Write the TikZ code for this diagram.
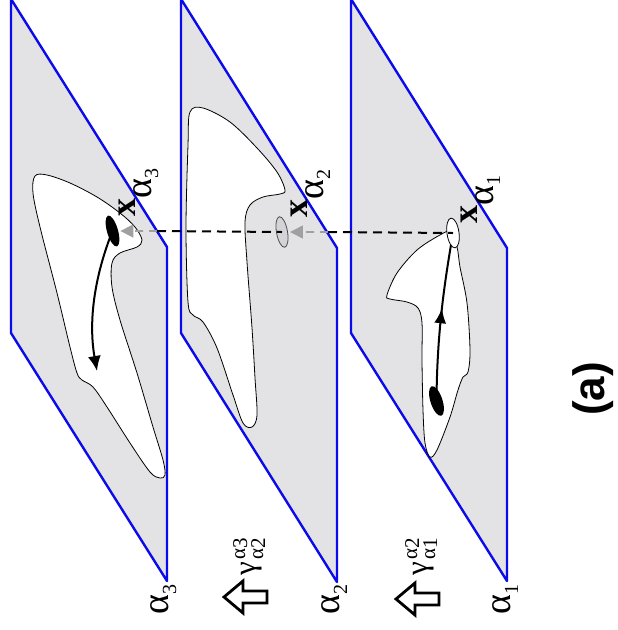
\documentclass[tikz,border=0pt]{standalone}
\usepackage{fontspec}
\newfontfamily\lib{Liberation Serif}
\newfontfamily\libsans{Liberation Sans}
\usetikzlibrary{shapes.geometric,arrows.meta,decorations.markings}
\definecolor{planegray}{RGB}{227,227,230}
\definecolor{planeblue}{RGB}{10,10,235}
\definecolor{arrgray}{RGB}{160,160,160}
\definecolor{dotgray}{RGB}{212,212,216}
\newcommand\xlab[1]{\lib\fontsize{36}{36}\selectfont\textbf{x}\raisebox{-16pt}{\fontsize{38}{38}\selectfont α\raisebox{-7pt}{\fontsize{20}{20}\selectfont #1}}}
\newcommand\alab[1]{\lib\fontsize{38}{38}\selectfont α\raisebox{-8pt}{\fontsize{20}{20}\selectfont #1}}
\newcommand\glab[2]{\lib\fontsize{31}{31}\selectfont γ\hspace{3pt}\rlap{\raisebox{10pt}{\fontsize{21}{21}\selectfont α\raisebox{-2pt}{#1}}}\raisebox{-8pt}{\fontsize{21}{21}\selectfont α\raisebox{-2pt}{#2}}}
\begin{document}
\begin{tikzpicture}[x=1pt,y=-1pt,
  plane/.style={fill=planegray, draw=planeblue, line width=2.4pt, line join=round},
  blob/.style={fill=white, draw=black, line width=0.8pt},
  dot/.style={ellipse, inner sep=0pt},
  curvearrow/.style={line width=2pt, draw=black},
  blackdash/.style={draw=black, line width=2pt, dash pattern=on 9pt off 6pt},
  graydash/.style={draw=arrgray, line width=1.6pt, dash pattern=on 8pt off 6pt, -{Triangle[length=13pt,width=13pt]}, shorten >=2pt},
  hollow/.style={draw=black, fill=white, line width=2.8pt, line join=miter},
  lab/.style={rotate=90, anchor=base west, inner sep=0pt}]
\useasboundingbox (0,0) rectangle (618,630);
\fill[white] (0,0) rectangle (618,630);
% planes
\draw[plane] (11,-1) -- (167,247) -- (167,581) -- (11,333) -- cycle;
\draw[plane] (181,-1) -- (337,248) -- (337,582) -- (181,333) -- cycle;
\draw[plane] (351,-1) -- (507,248) -- (507,581) -- (351,333) -- cycle;
% blobs
\draw[blob] plot[smooth cycle, tension=0.55] coordinates {(35,176) (47,175) (70,183) (97,197) (120,213) (135,227) (142,240) (137,247) (120,253) (112,263) (112,287) (120,320) (137,373) (153,427) (163,460) (165,475) (160,478) (150,472) (130,443) (107,407) (93,387) (82,380) (77,373) (70,347) (57,293) (40,227) (33,193)};
\draw[blob] plot[smooth cycle, tension=0.55] coordinates {(190,112) (203,108) (230,122) (257,148) (277,172) (285,190) (280,194) (263,197) (250,205) (245,222) (247,262) (252,328) (255,378) (257,415) (252,427) (243,423) (233,395) (217,348) (203,322) (193,315) (188,302) (186,228) (188,145)};
\draw[blob] plot[smooth cycle, tension=0.55] coordinates {(450,232) (440,235) (417,250) (397,273) (387,295) (390,299) (407,302) (418,308) (422,323) (422,360) (423,410) (425,443) (430,457) (437,450) (450,417) (458,390) (463,377) (468,372) (470,350) (467,303) (460,267) (457,247)};
% point nodes
\node[dot, fill=black, minimum width=11pt, minimum height=32pt, rotate=16] (e3) at (112.5,231) {};
\node[dot, fill=dotgray, draw=black!70, line width=0.8pt, minimum width=11pt, minimum height=31pt, rotate=10] (e2) at (282,232) {};
\node[dot, fill=black, minimum width=12pt, minimum height=31pt, rotate=18] (e1b) at (436.5,401) {};
\coordinate (a3end) at (97,371);
% arrows inside planes
\draw[curvearrow, -{Latex[length=15pt,width=13pt]}] (e3.center) .. controls (95,275) and (88,320) .. (a3end);
\draw[curvearrow, postaction={decorate}, decoration={markings, mark=at position 0.55 with {\arrow{Latex[length=15pt,width=12pt]}}}] (e1b.center) .. controls (437,330) and (445,280) .. (453,233);
\node[dot, fill=white, draw=black, line width=0.8pt, minimum width=12pt, minimum height=30pt, rotate=8] (e1w) at (453,233) {};
% dashed projection line
\coordinate (g3) at (157,231);
\coordinate (g2) at (328,232);
\draw[graydash] (g3) -- (e3);
\draw[blackdash] (g3) -- (e2.center);
\draw[graydash] (g2) -- (e2);
\draw[blackdash] (g2) -- (e1w.center);
% x labels
\node[lab] (x3) at (135,217) {\xlab{3}};
\node[lab] (x2) at (307,218) {\xlab{2}};
\node[lab] (x1) at (477,224) {\xlab{1}};
% plane labels
\node[lab] (p3) at (168,615) {\alab{3}};
\node[lab] (p2) at (339,615) {\alab{2}};
\node[lab] (p1) at (510,615) {\alab{1}};
% gamma labels
\node[lab] (g32) at (255,576) {\glab{3}{2}};
\node[lab] (g21) at (427,576) {\glab{2}{1}};
% hollow arrows
\draw[hollow, shift={(224,597)}] (0,0) -- (19,-16) -- (19,-6) -- (43,-6) -- (43,6) -- (19,6) -- (19,16) -- cycle;
\draw[hollow, shift={(396,599)}] (0,0) -- (19,-16) -- (19,-6) -- (43,-6) -- (43,6) -- (19,6) -- (19,16) -- cycle;
% caption
\node[rotate=90, inner sep=0pt, font=\libsans\bfseries\fontsize{44}{44}\selectfont] (cap) at (593,389) {(a)};
\end{tikzpicture}
\end{document}
